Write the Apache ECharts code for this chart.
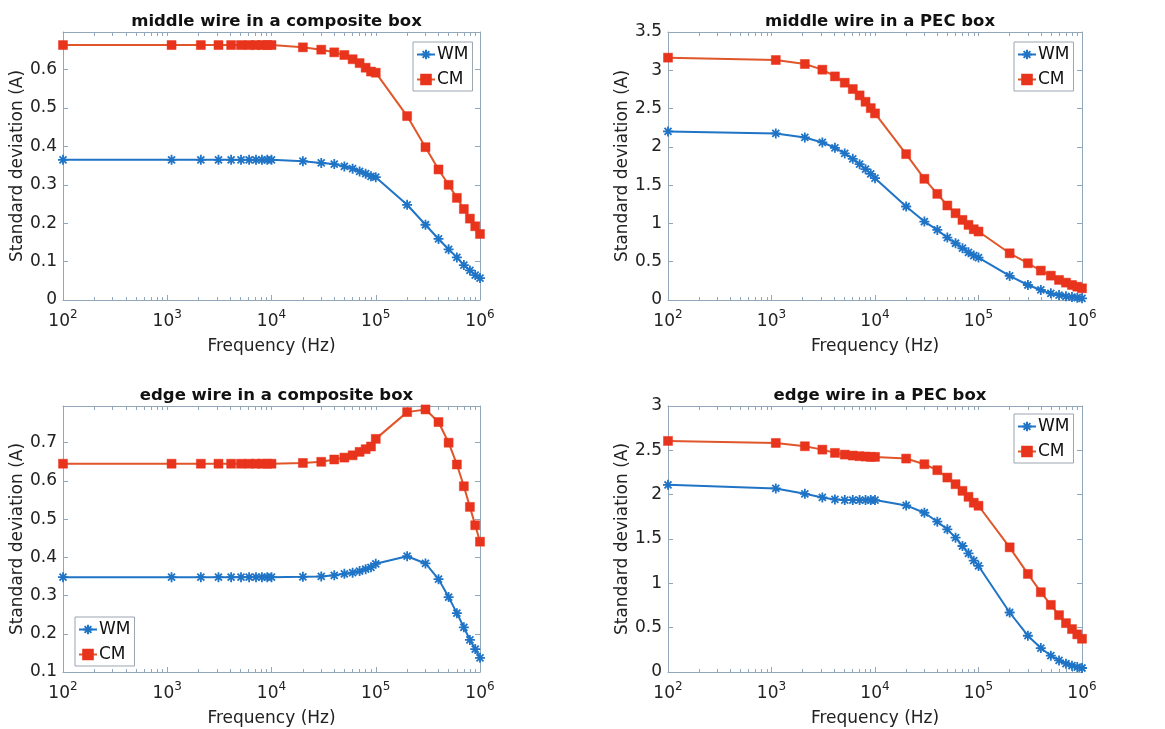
<!DOCTYPE html>
<html>
<head>
<meta charset="utf-8">
<script src="https://cdn.jsdelivr.net/npm/echarts@6/dist/echarts.min.js"></script>
<style>
html,body{margin:0;padding:0;background:#fff;}
#chart{width:1165px;height:729px;}
</style>
</head>
<body>
<div id="chart"></div>
<script>
// Frequencies (Hz)
const freq = [100,1100,2100,3100,4100,5100,6100,7100,8100,9100,10000,
  20000,30000,40000,50000,60000,70000,80000,90000,100000,
  200000,300000,400000,500000,600000,700000,800000,900000,1000000];

// middle wire in a composite box
const midCompWM = [0.365,0.365,0.365,0.365,0.365,0.365,0.365,0.365,0.365,0.365,0.365,
  0.3615,0.357,0.354,0.348,0.342,0.335,0.329,0.322,0.320,
  0.248,0.196,0.159,0.132,0.111,0.091,0.077,0.065,0.057];
const midCompCM = [0.664,0.664,0.664,0.664,0.664,0.664,0.664,0.664,0.664,0.664,0.664,
  0.658,0.652,0.645,0.638,0.627,0.617,0.605,0.595,0.592,
  0.479,0.398,0.340,0.300,0.266,0.237,0.212,0.192,0.172];

// middle wire in a PEC box
const midPecWM = [2.201,2.175,2.123,2.058,1.988,1.914,1.844,1.774,1.709,1.648,1.591,
  1.221,1.024,0.915,0.815,0.741,0.676,0.623,0.580,0.554,
  0.314,0.196,0.131,0.087,0.065,0.048,0.039,0.031,0.022];
const midPecCM = [3.165,3.134,3.082,3.008,2.920,2.838,2.755,2.672,2.589,2.506,2.437,
  1.905,1.583,1.386,1.234,1.133,1.046,0.981,0.924,0.894,
  0.610,0.480,0.384,0.318,0.262,0.227,0.196,0.174,0.153];

// edge wire in a composite box
const edgeCompWM = [0.348,0.348,0.348,0.348,0.348,0.348,0.348,0.348,0.348,0.348,0.348,
  0.349,0.350,0.353,0.357,0.360,0.364,0.369,0.374,0.383,
  0.403,0.384,0.343,0.296,0.254,0.217,0.184,0.160,0.137];
const edgeCompCM = [0.645,0.645,0.645,0.645,0.645,0.645,0.645,0.645,0.645,0.645,0.645,
  0.647,0.650,0.656,0.661,0.667,0.676,0.683,0.690,0.710,
  0.780,0.787,0.754,0.700,0.643,0.586,0.532,0.484,0.441];

// edge wire in a PEC box
const edgePecWM = [2.111,2.070,2.010,1.969,1.946,1.939,1.939,1.939,1.939,1.939,1.939,
  1.879,1.796,1.695,1.609,1.515,1.421,1.339,1.256,1.196,
  0.671,0.409,0.270,0.184,0.131,0.094,0.071,0.056,0.045];
const edgePecCM = [2.606,2.583,2.546,2.508,2.471,2.452,2.441,2.434,2.430,2.426,2.426,
  2.407,2.343,2.276,2.193,2.118,2.043,1.976,1.909,1.875,
  1.406,1.106,0.900,0.757,0.641,0.551,0.484,0.424,0.375];

const titles = ['middle wire in a composite box','middle wire in a PEC box',
                'edge wire in a composite box','edge wire in a PEC box'];
const seriesNames = ['WM','CM'];
const yTicks = [
  {min:0, max:0.698, interval:0.1, labelMax:false},
  {min:0, max:3.5, interval:0.5, labelMax:true},
  {min:0.1, max:0.796, interval:0.1, labelMax:false},
  {min:0, max:3, interval:0.5, labelMax:true}
];
const xDecades = [2,3,4,5,6];

const panelData = [[midCompWM, midCompCM],[midPecWM, midPecCM],[edgeCompWM, edgeCompCM],[edgePecWM, edgePecCM]];

// layout
const grids = [
  {left:63, top:32, width:417, height:268},
  {left:668, top:32, width:414, height:268},
  {left:63, top:406, width:417, height:266},
  {left:668, top:406, width:414, height:266}
];
const legendPos = [
  {left:413, top:42},
  {left:1014, top:42},
  {left:75, top:617},
  {left:1014, top:414}
];

const BLUE = '#1f74c6';
const RED_LINE = '#e0562a';
const RED_MARK = '#e8341c';
const AXIS = '#93a7ba';
const FONT = 'DejaVu Sans';
const STAR = 'path://M10 0L10 20M0 10L20 10M3 3L17 17M3 17L17 3';

const minorPos = [];
for (let n = 2; n < 6; n++) for (let k = 2; k <= 9; k++) minorPos.push(n + Math.log10(k));
const majorPos = xDecades.slice();

const option = {
  animation: false,
  backgroundColor: '#fff',
  title: [], grid: [], xAxis: [], yAxis: [], series: [], legend: []
};

grids.forEach((g, p) => {
  option.grid.push(Object.assign({containLabel:false}, g));
  option.title.push({
    text: titles[p], left: g.left + g.width/2, top: g.top - 24, textAlign: 'center',
    textStyle: {fontFamily: FONT, fontSize: 16.5, fontWeight: 'bold', color: '#111'}
  });
  // main log x axis
  option.xAxis.push({
    type: 'log', logBase: 10, min: 100, max: 1000000, gridIndex: p, position: 'bottom',
    name: 'Frequency (Hz)', nameLocation: 'middle', nameGap: 38,
    nameTextStyle: {fontFamily: FONT, fontSize: 17, color: '#222'},
    axisLine: {show: true, lineStyle: {color: AXIS, width: 1}},
    axisTick: {show: true, inside: true, length: 5, lineStyle: {color: AXIS}},
    splitLine: {show: false},
    axisLabel: {
      margin: 9, fontFamily: FONT, color: '#222',
      formatter: v => '{b|10}{s|' + Math.round(Math.log10(v)) + '}',
      rich: {b: {fontSize: 17, fontFamily: FONT, color: '#222'},
             s: {fontSize: 12, fontFamily: FONT, color: '#222', padding: [0,0,13,0]}}
    }
  });
  // minor ticks bottom (log10 space)
  option.xAxis.push({
    type: 'value', min: 2, max: 6, gridIndex: p, position: 'bottom',
    axisLine: {show: false}, splitLine: {show: false}, axisLabel: {show: false},
    axisTick: {show: true, inside: true, length: 3, customValues: minorPos, lineStyle: {color: AXIS}}
  });
  // top box edge with ticks
  option.xAxis.push({
    type: 'value', min: 2, max: 6, gridIndex: p, position: 'top',
    axisLine: {show: true, lineStyle: {color: AXIS}}, splitLine: {show: false}, axisLabel: {show: false},
    axisTick: {show: true, inside: true, length: 4, customValues: majorPos.concat(minorPos), lineStyle: {color: AXIS}}
  });
  const yt = yTicks[p];
  option.yAxis.push({
    type: 'value', gridIndex: p, min: yt.min, max: yt.max, interval: yt.interval, position: 'left',
    name: 'Standard deviation (A)', nameLocation: 'middle', nameGap: 34, nameRotate: 90,
    nameTextStyle: {fontFamily: FONT, fontSize: 17, color: '#222'},
    axisLine: {show: true, lineStyle: {color: AXIS}},
    axisTick: {show: true, inside: true, length: 5, lineStyle: {color: AXIS}},
    splitLine: {show: false},
    axisLabel: {fontFamily: FONT, fontSize: 17, color: '#222', margin: 6, showMaxLabel: yt.labelMax}
  });
  option.yAxis.push({
    type: 'value', gridIndex: p, min: yt.min, max: yt.max, interval: yt.interval, position: 'right',
    axisLine: {show: true, lineStyle: {color: AXIS}},
    axisTick: {show: true, inside: true, length: 5, lineStyle: {color: AXIS}},
    splitLine: {show: false}, axisLabel: {show: false}
  });
  const [wm, cm] = panelData[p];
  option.series.push({
    type: 'line', name: 'WM', xAxisIndex: 3*p, yAxisIndex: 2*p,
    data: freq.map((f, i) => [f, wm[i]]),
    symbol: STAR, symbolSize: 10, symbolKeepAspect: true,
    lineStyle: {color: BLUE, width: 2},
    itemStyle: {color: BLUE, borderColor: BLUE, borderWidth: 1.8}
  });
  option.series.push({
    type: 'line', name: 'CM', xAxisIndex: 3*p, yAxisIndex: 2*p,
    data: freq.map((f, i) => [f, cm[i]]),
    symbol: 'rect', symbolSize: 9,
    lineStyle: {color: RED_LINE, width: 2},
    itemStyle: {color: RED_MARK, borderColor: RED_MARK, borderWidth: 0.5}
  });
  option.legend.push(Object.assign({
    data: seriesNames, orient: 'vertical', selectedMode: false,
    backgroundColor: '#fff', borderColor: '#9aa5b0', borderWidth: 1,
    padding: [4, 4, 3, 3], itemGap: 8, itemWidth: 18, itemHeight: 12,
    textStyle: {fontFamily: FONT, fontSize: 17, color: '#111', padding: [0,0,0,-3]}
  }, legendPos[p]));
});

const chart = echarts.init(document.getElementById('chart'), null, {renderer: 'canvas'});
chart.setOption(option);
</script>
</body>
</html>
